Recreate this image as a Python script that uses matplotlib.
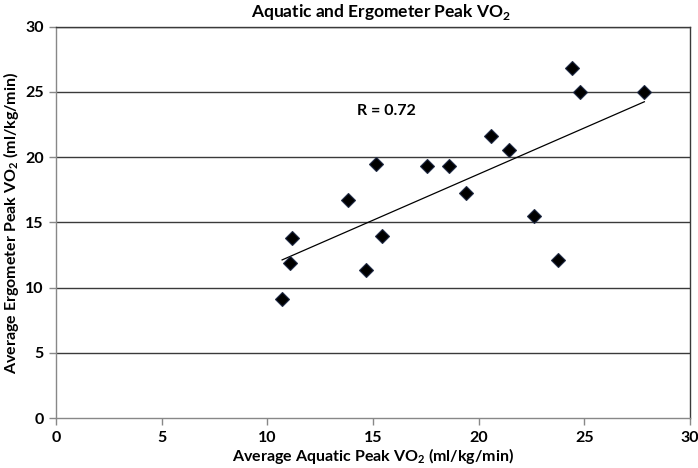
import numpy as np
import matplotlib
matplotlib.use("Agg")
import matplotlib.pyplot as plt

# Data
aquatic = [10.70, 11.07, 11.15, 13.83, 14.67, 15.13, 15.43, 17.56, 18.60,
           19.39, 20.57, 21.45, 22.61, 23.77, 24.42, 24.81, 27.84]
ergometer = [9.14, 11.88, 13.82, 16.73, 11.36, 19.44, 13.92, 19.35, 19.35,
             17.22, 21.63, 20.51, 15.50, 12.11, 26.84, 25.00, 25.00]
x_ticks = [0, 5, 10, 15, 20, 25, 30]
y_ticks = [0, 5, 10, 15, 20, 25, 30]
r_label = "R = 0.72"
title = r"Aquatic and Ergometer Peak VO$_{\mathbf{2}}$"
xlabel = r"Average Aquatic Peak VO$_{\mathbf{2}}$ (ml/kg/min)"
ylabel = r"Average Ergometer Peak VO$_{\mathbf{2}}$ (ml/kg/min)"

plt.rcParams['font.family'] = ['Lato', 'DejaVu Sans']
plt.rcParams['mathtext.fontset'] = 'custom'
plt.rcParams['mathtext.rm'] = 'Lato'
plt.rcParams['mathtext.bf'] = 'Lato:bold'

fig = plt.figure(figsize=(6.98, 4.68), dpi=100)
ax = fig.add_axes([56/698, 1-418/468, (690-56)/698, (418-26.7)/468])

x = np.array(aquatic)
y = np.array(ergometer)

# horizontal gridlines
for v in y_ticks[1:]:
    ax.axhline(v, color='#3a3a3a', lw=1.0, zorder=1)

# trendline
m, b = np.polyfit(x, y, 1)
xs = np.array([x.min(), x.max()])
ax.plot(xs, m*xs + b, color='black', lw=0.9, zorder=2)

ax.plot(x, y, linestyle='none', marker='D', markersize=7,
        markerfacecolor='black', markeredgecolor='#1f2a44', markeredgewidth=0.8, zorder=3)

ax.text(14.25, 23.52, r_label, ha='left', va='center', fontsize=11.5, fontweight='bold')

ax.set_xlim(0, 30)
ax.set_ylim(0, 30)
ax.set_xticks(x_ticks)
ax.set_yticks(y_ticks)
ax.tick_params(axis='both', direction='out', length=5, width=1, color='#888888',
               labelsize=11.5)
ax.tick_params(axis='y', pad=4)
ax.tick_params(axis='x', pad=4)
for lab in ax.get_xticklabels() + ax.get_yticklabels():
    lab.set_fontweight('bold')

ax.spines['left'].set_color('#888888')
ax.spines['bottom'].set_color('#888888')
ax.spines['right'].set_color('#3a3a3a')
ax.spines['top'].set_color('#3a3a3a')
for s in ax.spines.values():
    s.set_linewidth(1.0)

ax.set_title(title, fontsize=12.5, fontweight='bold', pad=7, x=0.5126)
ax.set_xlabel(xlabel, fontsize=11.5, fontweight='bold', labelpad=1)
ax.set_ylabel(ylabel, fontsize=11.5, fontweight='bold', labelpad=3)

fig.savefig("out.png", dpi=100)
